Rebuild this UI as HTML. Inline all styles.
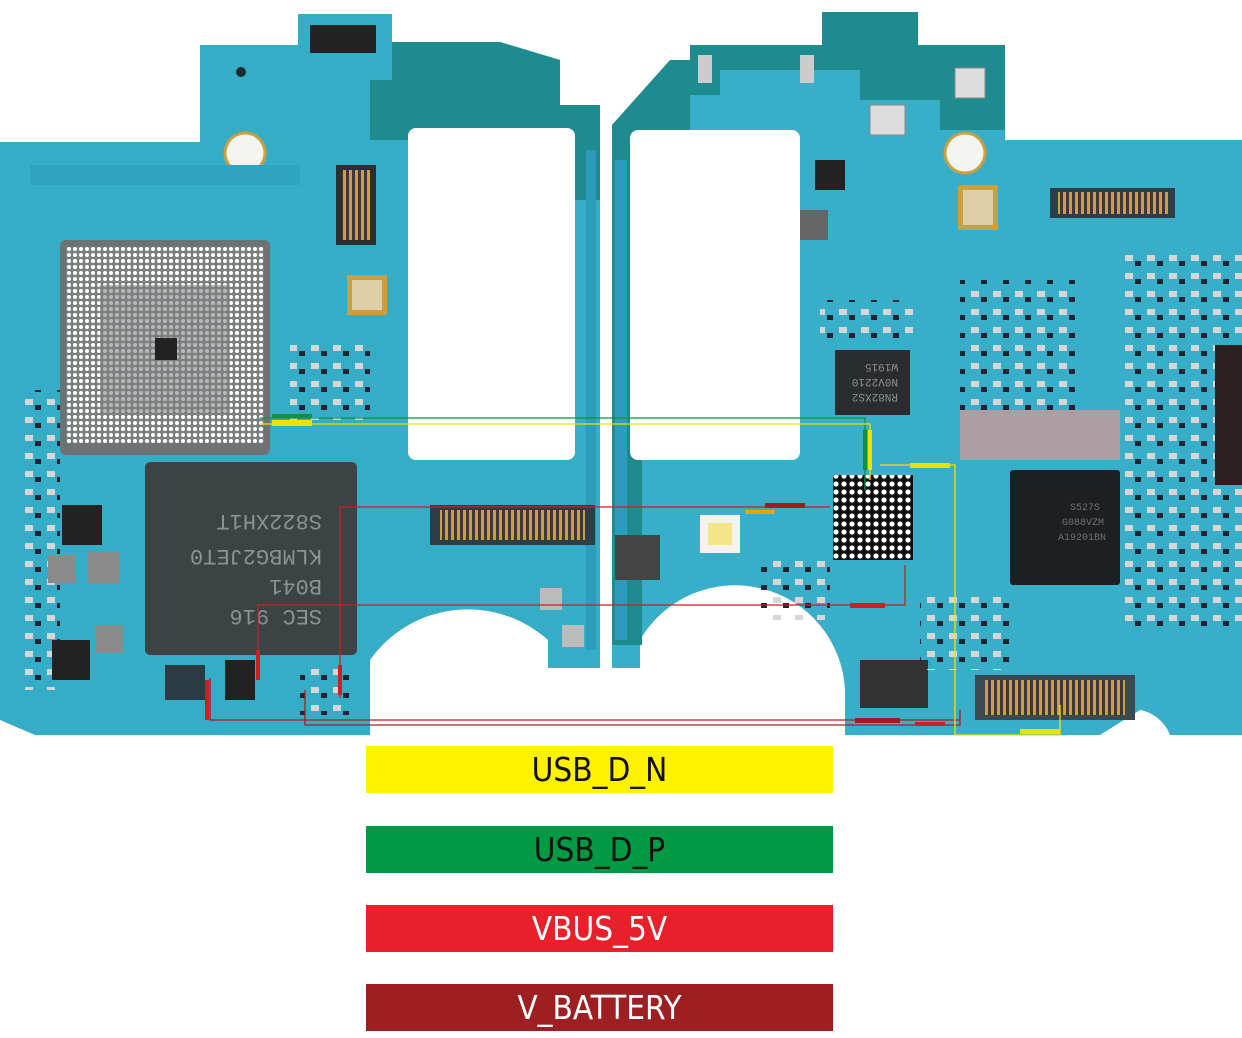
<!DOCTYPE html>
<html><head><meta charset="utf-8"><style>
html,body{margin:0;padding:0;background:#fff;width:1242px;height:1038px;overflow:hidden}
.bar{position:absolute;left:366px;width:467px;height:47px;font-family:"DejaVu Sans Condensed","Liberation Sans",sans-serif;font-size:33px;text-align:center;line-height:47px}
</style></head><body>
<svg width="1242" height="740" style="position:absolute;left:0;top:0">
<defs>
<pattern id="bga" width="6" height="6" patternUnits="userSpaceOnUse"><rect width="6" height="6" fill="#7a7f80"/><circle cx="3" cy="3" r="2" fill="#fff"/></pattern>
<pattern id="bga2" width="8" height="8" patternUnits="userSpaceOnUse"><rect width="8" height="8" fill="#111"/><circle cx="4" cy="4" r="2.6" fill="#fff"/></pattern>
<pattern id="pins" width="6" height="10" patternUnits="userSpaceOnUse"><rect width="6" height="10" fill="#3a3a3a"/><rect x="1" y="0" width="3" height="10" fill="#c9a040"/></pattern>
<pattern id="comp" width="22" height="18" patternUnits="userSpaceOnUse"><rect width="22" height="18" fill="none"/><rect x="3" y="3" width="8" height="6" fill="#d6d6d6"/><rect x="13" y="9" width="6" height="5" fill="#223"/></pattern>
</defs>
<!-- LEFT BOARD -->
<path d="M298,14 H392 V42 H500 L560,60 V105 H600 V668 H548 V640 A120,120 0 0 0 370,660 V735 H35 L0,720 V142 H200 V45 H298 Z" fill="#36adc6"/>
<path d="M392,42 H500 L560,60 V105 H600 V200 H572 V140 H370 V80 H392 Z" fill="#1e8c8e"/>
<rect x="408" y="128" width="167" height="332" rx="8" fill="#fff"/>
<rect x="586" y="150" width="10" height="500" fill="#2b9cbc"/>
<circle cx="245" cy="153" r="20" fill="#f4f4f0" stroke="#c9a040" stroke-width="3"/>
<circle cx="241" cy="72" r="5" fill="#1c2a30"/>
<rect x="310" y="25" width="66" height="28" fill="#222"/>
<rect x="30" y="165" width="270" height="20" fill="#2fa3bf"/>
<rect x="60" y="240" width="210" height="215" rx="6" fill="#6d7375"/>
<rect x="66" y="247" width="198" height="196" fill="url(#bga)"/>
<rect x="100" y="285" width="130" height="130" fill="#7a7f80" opacity="0.55"/>
<rect x="155" y="338" width="22" height="22" fill="#222"/>
<rect x="145" y="462" width="212" height="193" rx="5" fill="#3d4245"/>
<g font-family="Liberation Mono,monospace" font-size="22" fill="#8c9194" transform="rotate(180 251 560)">
<text x="180" y="510">SEC 916</text><text x="180" y="540">B041</text><text x="180" y="570">KLMBG2JET0</text><text x="180" y="605">S822XH1T</text></g>
<rect x="336" y="165" width="40" height="80" fill="#2c2f30"/><rect x="342" y="170" width="28" height="70" fill="url(#pins)"/>
<rect x="347" y="275" width="40" height="40" fill="#c9a040"/><rect x="352" y="280" width="30" height="30" fill="#eee" opacity=".6"/>
<rect x="290" y="340" width="80" height="80" fill="url(#comp)"/>
<rect x="20" y="390" width="40" height="300" fill="url(#comp)"/>
<rect x="48" y="555" width="28" height="28" fill="#8a8a8a"/><rect x="88" y="552" width="32" height="32" fill="#8a8a8a"/><rect x="95" y="625" width="28" height="28" fill="#8a8a8a"/>
<rect x="62" y="505" width="40" height="40" fill="#222"/><rect x="52" y="640" width="38" height="40" fill="#222"/>
<rect x="225" y="660" width="30" height="40" fill="#222"/><rect x="165" y="665" width="40" height="35" fill="#2b3b44"/>
<rect x="430" y="505" width="165" height="40" fill="#2e3e48"/><rect x="440" y="510" width="145" height="30" fill="url(#pins)"/>
<rect x="540" y="588" width="22" height="22" fill="#bbb"/><rect x="562" y="625" width="22" height="22" fill="#bbb"/>
<rect x="300" y="665" width="55" height="50" fill="url(#comp)"/>
<!-- RIGHT BOARD -->
<path d="M822,12 H918 V45 H1005 V140 H1242 V735 H1170 A40,40 0 0 0 1140,710 L1100,735 H845 V690 A110,110 0 0 0 640,640 V668 H612 V125 L670,60 H690 V45 H822 Z" fill="#38aec8"/>
<path d="M822,12 H918 V45 H1005 V130 H940 V100 H860 V70 H720 V95 H690 V140 H612 V125 L670,60 H690 V45 H822 Z" fill="#1e8c8e"/>
<rect x="612" y="125" width="30" height="520" fill="#1e8c8e"/>
<rect x="630" y="130" width="170" height="330" rx="8" fill="#fff"/>
<rect x="615" y="160" width="12" height="480" fill="#2b9cbc"/>
<circle cx="965" cy="153" r="20" fill="#f4f4f0" stroke="#c9a040" stroke-width="3"/>
<rect x="955" y="68" width="30" height="30" fill="#ddd" stroke="#888"/>
<rect x="870" y="105" width="35" height="30" fill="#ddd" stroke="#888"/>
<rect x="698" y="55" width="14" height="28" fill="#ccc"/><rect x="800" y="55" width="14" height="28" fill="#ccc"/>
<rect x="815" y="160" width="30" height="30" fill="#222"/><rect x="800" y="210" width="28" height="30" fill="#666"/>
<rect x="958" y="185" width="40" height="45" fill="#c9a040"/><rect x="963" y="190" width="30" height="35" fill="#eee" opacity=".6"/>
<rect x="1050" y="188" width="125" height="30" fill="#2e3e48"/><rect x="1058" y="192" width="110" height="22" fill="url(#pins)"/>
<rect x="835" y="350" width="75" height="65" fill="#2a2d2f"/>
<g font-family="Liberation Mono,monospace" font-size="11" fill="#8c9194" transform="rotate(180 872 382)"><text x="846" y="370">RN82XS2</text><text x="846" y="385">N0V2210</text><text x="846" y="400">W1915</text></g>
<rect x="820" y="300" width="95" height="45" fill="url(#comp)"/>
<rect x="960" y="410" width="160" height="50" fill="#c99a9a" opacity=".8"/>
<rect x="1010" y="470" width="110" height="115" rx="3" fill="#1d2021"/>
<g font-family="Liberation Mono,monospace" font-size="10" fill="#6d7274"><text x="1070" y="510">S527S</text><text x="1062" y="525">G088VZM</text><text x="1058" y="540">A19201BN</text></g>
<rect x="833" y="475" width="80" height="85" fill="url(#bga2)"/>
<rect x="700" y="515" width="40" height="38" fill="#f3f3ee"/><rect x="708" y="523" width="24" height="22" fill="#f4e58a"/>
<rect x="615" y="535" width="45" height="45" fill="#444"/>
<rect x="975" y="675" width="160" height="45" fill="#3a4a50"/><rect x="985" y="680" width="140" height="35" fill="url(#pins)"/>
<rect x="860" y="660" width="68" height="48" fill="#333"/>
<rect x="960" y="280" width="120" height="130" fill="url(#comp)"/>
<rect x="1120" y="250" width="122" height="380" fill="url(#comp)"/>
<rect x="920" y="590" width="90" height="80" fill="url(#comp)"/>
<rect x="760" y="560" width="70" height="60" fill="url(#comp)"/>
<rect x="1215" y="345" width="27" height="140" fill="#2a2020"/>
<!-- nets -->
<g fill="none" stroke-width="1.3">
<polyline points="260,418 865,418 865,490" stroke="#109040"/>
<polyline points="260,424 870,424 870,480" stroke="#f0e000"/>
<polyline points="340,698 340,507 830,507" stroke="#d01c24"/>
<polyline points="258,680 258,605 905,605 905,565" stroke="#d01c24"/>
<polyline points="210,678 210,720 960,720" stroke="#b01a20"/>
<polyline points="305,690 305,725 960,725 960,710" stroke="#b01a20"/>
<polyline points="880,465 955,465 955,735 1060,735 1060,705" stroke="#f0e000"/>
</g>
<rect x="272" y="420" width="40" height="6" fill="#f0e000"/><rect x="272" y="414" width="40" height="4" fill="#109040"/>
<rect x="863" y="430" width="4" height="40" fill="#109040"/><rect x="868" y="430" width="4" height="40" fill="#f0e000"/>
<rect x="910" y="463" width="40" height="5" fill="#f0e000"/>
<rect x="765" y="503" width="40" height="5" fill="#9e1c20"/><rect x="745" y="510" width="30" height="4" fill="#f0a000"/>
<rect x="850" y="603" width="35" height="5" fill="#d01c24"/><rect x="855" y="718" width="45" height="5" fill="#9e1c20"/><rect x="915" y="722" width="30" height="4" fill="#d01c24"/>
<rect x="1020" y="729" width="40" height="5" fill="#f0e000"/>
<rect x="205" y="680" width="4" height="40" fill="#d01c24"/><rect x="256" y="650" width="4" height="30" fill="#d01c24"/><rect x="338" y="665" width="4" height="30" fill="#d01c24"/>
</svg>
<div class="bar" style="top:746px;background:#fff200;color:#111">USB_D_N</div>
<div class="bar" style="top:826px;background:#009a44;color:#111">USB_D_P</div>
<div class="bar" style="top:905px;background:#e8202a;color:#fff">VBUS_5V</div>
<div class="bar" style="top:984px;background:#9e1f22;color:#fff">V_BATTERY</div>
</body></html>
